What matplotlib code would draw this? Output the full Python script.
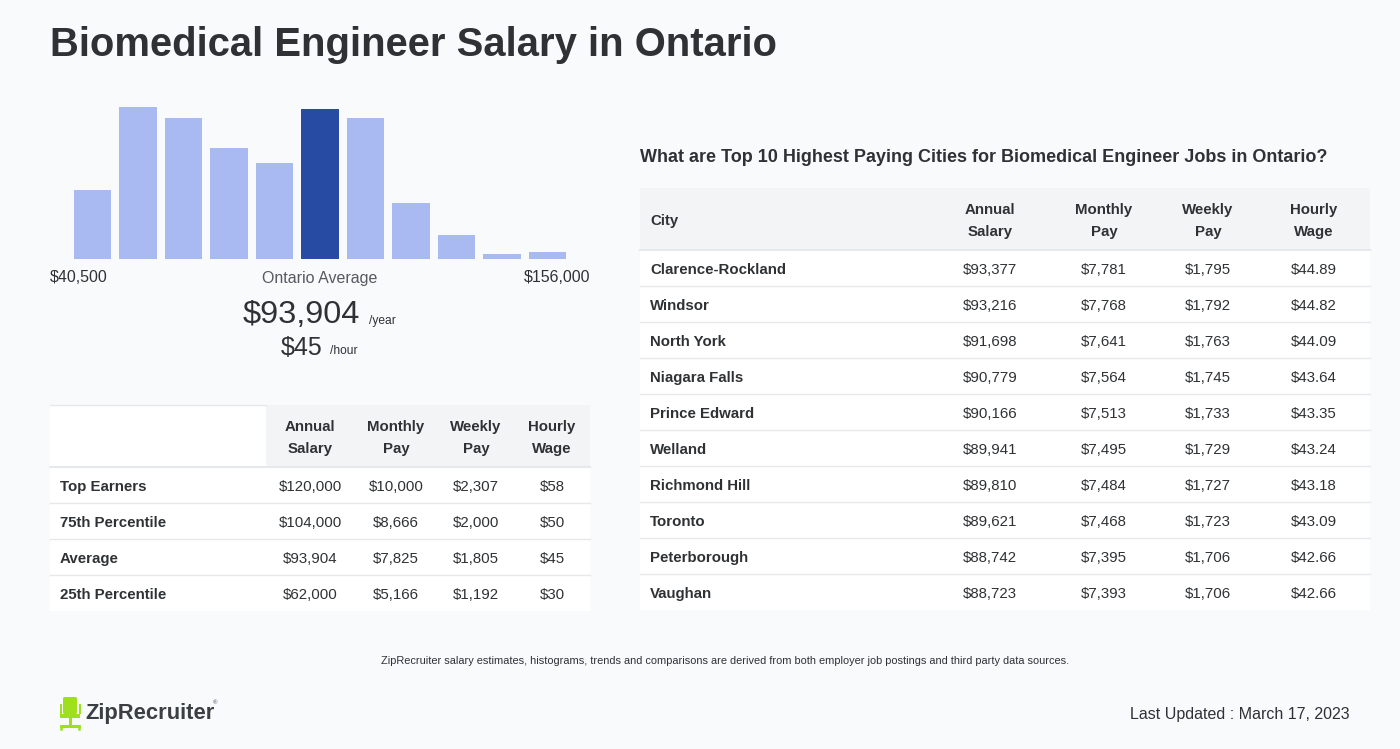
import matplotlib
matplotlib.use("Agg")
import matplotlib.pyplot as plt
from matplotlib.patches import Rectangle, FancyBboxPatch

plt.rcParams['font.family'] = ['Liberation Sans', 'DejaVu Sans']

# ---------------- data ----------------
hist_heights = [69, 152, 141, 111, 96, 150, 141, 56, 24, 5, 7]
hist_highlight = 5
range_low = "$40,500"
range_high = "$156,000"
avg_annual = "$93,904"
avg_hourly = "$45"

pct_rows = ["Top Earners", "75th Percentile", "Average", "25th Percentile"]
pct_annual = [120000, 104000, 93904, 62000]
pct_monthly = [10000, 8666, 7825, 5166]
pct_weekly = [2307, 2000, 1805, 1192]
pct_hourly = [58, 50, 45, 30]

cities = ["Clarence-Rockland", "Windsor", "North York", "Niagara Falls", "Prince Edward",
          "Welland", "Richmond Hill", "Toronto", "Peterborough", "Vaughan"]
city_annual = [93377, 93216, 91698, 90779, 90166, 89941, 89810, 89621, 88742, 88723]
city_monthly = [7781, 7768, 7641, 7564, 7513, 7495, 7484, 7468, 7395, 7393]
city_weekly = [1795, 1792, 1763, 1745, 1733, 1729, 1727, 1723, 1706, 1706]
city_hourly = [44.89, 44.82, 44.09, 43.64, 43.35, 43.24, 43.18, 43.09, 42.66, 42.66]

col_headers = ["Annual\nSalary", "Monthly\nPay", "Weekly\nPay", "Hourly\nWage"]

# ---------------- styling ----------------
W, H = 1400, 749
BG = '#f9fafc'
TXT = '#2f3235'
LIGHT = '#a9baf2'
DARK = '#274ba3'
HDR_BG = '#f3f4f6'
LINE = '#e6e8eb'
DY = 2  # vertical text nudge

fig = plt.figure(figsize=(W / 100, H / 100), dpi=100, facecolor=BG)
bg = fig.add_axes([0, 0, 1, 1])
bg.set_xlim(0, W)
bg.set_ylim(H, 0)
bg.axis('off')
bg.set_facecolor(BG)

def px(p):
    return p * 0.72  # px -> pt at 100 dpi

def T(x, y, s, size, **kw):
    kw.setdefault('color', TXT)
    kw.setdefault('va', 'center')
    return bg.text(x, y + DY, s, fontsize=px(size), **kw)

# title
T(50, 43, "Biomedical Engineer Salary in Ontario", 40, fontweight='bold', ha='left')

# ---------------- histogram ----------------
left_px, right_px = 69.75, 570.25
base_px, top_px = 259, 99
hax = fig.add_axes([left_px / W, (H - base_px) / H, (right_px - left_px) / W, (base_px - top_px) / H])
hax.set_xlim(-0.5, len(hist_heights) - 0.5)
hax.set_ylim(0, base_px - top_px)
hax.axis('off')
colors = [DARK if i == hist_highlight else LIGHT for i in range(len(hist_heights))]
hax.bar(range(len(hist_heights)), hist_heights, width=0.815, color=colors)

T(50, 276, range_low, 16, ha='left')
T(590, 276, range_high, 16, ha='right')
T(320, 276, "Ontario Average", 16, color='#555a60', ha='center')

T(360, 313, avg_annual, 32.5, ha='right')
T(369, 319, "/year", 12, ha='left')
T(323, 346, avg_hourly, 25, ha='right')
T(330, 349, "/hour", 12, ha='left')

# ---------------- left table ----------------
lt_x0, lt_x1 = 50, 590
lt_hdr_top, lt_hdr_bot = 405, 467
row_h = 36
bg.add_patch(Rectangle((lt_x0, lt_hdr_top), 216, lt_hdr_bot - lt_hdr_top, facecolor='white', edgecolor='none'))
bg.add_patch(Rectangle((266, lt_hdr_top), lt_x1 - 266, lt_hdr_bot - lt_hdr_top, facecolor=HDR_BG, edgecolor='none'))
bg.plot([lt_x0, 266], [lt_hdr_top, lt_hdr_top], color=LINE, lw=1)
lt_cols = [310, 396, 476, 552]
for cx, hd in zip(lt_cols, col_headers):
    T(cx, (lt_hdr_top + lt_hdr_bot) / 2, hd, 15, fontweight='bold', ha='center', linespacing=1.65)
bg.plot([lt_x0, lt_x1], [lt_hdr_bot, lt_hdr_bot], color=LINE, lw=1.5)
for i, name in enumerate(pct_rows):
    y0 = lt_hdr_bot + i * row_h
    bg.add_patch(Rectangle((lt_x0, y0), lt_x1 - lt_x0, row_h, facecolor='white', edgecolor='none', zorder=0.5))
    if i > 0:
        bg.plot([lt_x0, lt_x1], [y0, y0], color=LINE, lw=1)
    yc = y0 + row_h / 2
    T(60, yc, name, 15, fontweight='bold', ha='left')
    vals = [f"${pct_annual[i]:,}", f"${pct_monthly[i]:,}", f"${pct_weekly[i]:,}", f"${pct_hourly[i]}"]
    for cx, v in zip(lt_cols, vals):
        T(cx, yc, v, 15, ha='center')

# ---------------- right table ----------------
T(640, 156, "What are Top 10 Highest Paying Cities for Biomedical Engineer Jobs in Ontario?",
  18, fontweight='bold', ha='left')
rt_x0, rt_x1 = 640, 1370
rt_hdr_top, rt_hdr_bot = 188, 250
bg.add_patch(Rectangle((rt_x0, rt_hdr_top), rt_x1 - rt_x0, rt_hdr_bot - rt_hdr_top, facecolor=HDR_BG, edgecolor='none'))
rt_cols = [990, 1104, 1208, 1314]
T(650, (rt_hdr_top + rt_hdr_bot) / 2, "City", 15, fontweight='bold', ha='left')
for cx, hd in zip(rt_cols, col_headers):
    T(cx, (rt_hdr_top + rt_hdr_bot) / 2, hd, 15, fontweight='bold', ha='center', linespacing=1.65)
bg.plot([rt_x0, rt_x1], [rt_hdr_bot, rt_hdr_bot], color=LINE, lw=1.5)
for i, name in enumerate(cities):
    y0 = rt_hdr_bot + i * row_h
    bg.add_patch(Rectangle((rt_x0, y0), rt_x1 - rt_x0, row_h, facecolor='white', edgecolor='none', zorder=0.5))
    if i > 0:
        bg.plot([rt_x0, rt_x1], [y0, y0], color=LINE, lw=1)
    yc = y0 + row_h / 2
    T(650, yc, name, 15, fontweight='bold', ha='left')
    vals = [f"${city_annual[i]:,}", f"${city_monthly[i]:,}", f"${city_weekly[i]:,}", f"${city_hourly[i]:.2f}"]
    for cx, v in zip(rt_cols, vals):
        T(cx, yc, v, 15, ha='center')

# ---------------- footer ----------------
T(725, 659, "ZipRecruiter salary estimates, histograms, trends and comparisons are derived from both employer job postings and third party data sources.",
  11, ha='center')
T(1350, 713, "Last Updated : March 17, 2023", 16, ha='right')

# logo: chair icon
GREEN = '#9ee01e'
bg.add_patch(FancyBboxPatch((63, 697), 14, 17, boxstyle="round,pad=0,rounding_size=1.5",
                            facecolor=GREEN, edgecolor='none'))
bg.add_patch(Rectangle((59.5, 704), 2, 10, facecolor=GREEN, edgecolor='none'))
bg.add_patch(Rectangle((78.5, 704), 2, 10, facecolor=GREEN, edgecolor='none'))
bg.add_patch(Rectangle((60, 714), 20, 4, facecolor=GREEN, edgecolor='none'))
bg.add_patch(Rectangle((69, 718), 2.5, 8, facecolor=GREEN, edgecolor='none'))
bg.plot([61, 79], [726, 726], color=GREEN, lw=2.2, solid_capstyle='round')
bg.plot([61, 61], [726, 729], color=GREEN, lw=1.8)
bg.plot([79, 79], [726, 729], color=GREEN, lw=1.8)
T(85, 711, "ZipRecruiter", 22, fontweight='bold', color='#3a3f44', ha='left')
bg.text(213, 703, "®", fontsize=px(6), color='#3a3f44', ha='left', va='center')

fig.savefig("out.png", dpi=100, facecolor=BG)
